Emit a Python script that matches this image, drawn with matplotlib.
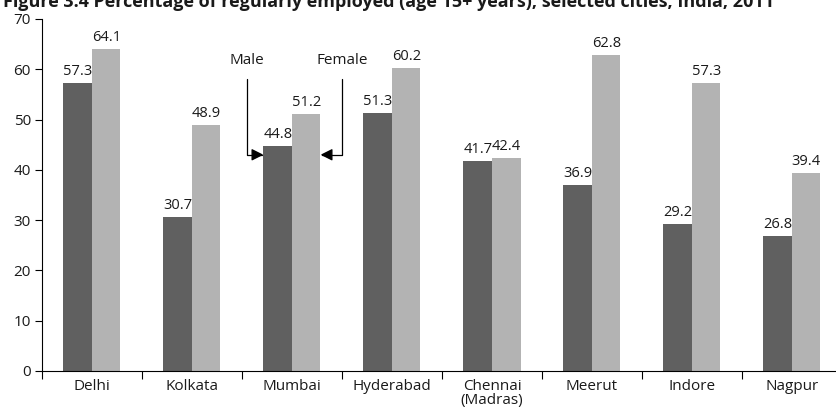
import matplotlib
matplotlib.use("Agg")
import numpy as np
import matplotlib.pyplot as plt

cities = ["Delhi", "Kolkata", "Mumbai", "Hyderabad", "Chennai\n(Madras)",
          "Meerut", "Indore", "Nagpur"]
male = [57.3, 30.7, 44.8, 51.3, 41.7, 36.9, 29.2, 26.8]
female = [64.1, 48.9, 51.2, 60.2, 42.4, 62.8, 57.3, 39.4]
yticks = [0, 10, 20, 30, 40, 50, 60, 70]

plt.rcParams["font.family"] = ["Open Sans", "DejaVu Sans"]
plt.rcParams["font.size"] = 10.5
plt.rcParams["text.color"] = "#1a1a1a"
plt.rcParams["xtick.labelcolor"] = "#1a1a1a"
plt.rcParams["ytick.labelcolor"] = "#1a1a1a"

fig = plt.figure(figsize=(8.37, 4.13), dpi=100)
ax = fig.add_axes([42 / 837, 42 / 413, 800 / 837, 352 / 413])

x = np.arange(len(cities)) + 0.5
w = 0.285
dark = "#606060"
light = "#b3b3b3"
ax.bar(x - w / 2, male, w, color=dark)
ax.bar(x + w / 2, female, w, color=light)

for xi, m, f in zip(x, male, female):
    ax.text(xi - w / 2, m + 0.8, "%.1f" % m, ha="center", va="bottom")
    ax.text(xi + w / 2, f + 0.8, "%.1f" % f, ha="center", va="bottom")

ax.set_xlim(0, len(cities))
ax.set_ylim(0, 70)
ax.set_yticks(yticks)
ax.set_xticks(np.arange(len(cities)))
ax.set_xticklabels([])
ax.set_xticks(x, minor=True)
ax.set_xticklabels(cities, minor=True)
ax.tick_params(axis="x", which="minor", length=0, pad=6, labelsize=11)
ax.tick_params(axis="x", which="major", length=6, direction="out")
ax.tick_params(axis="y", length=5, direction="out", pad=3, labelsize=11)
for lbl in ax.get_xticklabels(minor=True):
    lbl.set_linespacing(0.9)
    lbl.set_va("top")

ax.spines["top"].set_visible(False)
ax.spines["right"].set_visible(False)

# Male / Female pointers on Mumbai group
ax.annotate("Male", xy=(2.5 - w, 43.0), xytext=(2.05, 61.8),
            ha="center", va="center", fontsize=11,
            arrowprops=dict(arrowstyle="-|>", color="black", lw=0.9,
                            connectionstyle="angle,angleA=-90,angleB=180,rad=0",
                            shrinkA=6, shrinkB=0, mutation_scale=18))
ax.annotate("Female", xy=(2.5 + w, 43.0), xytext=(3.0, 61.8),
            ha="center", va="center", fontsize=11,
            arrowprops=dict(arrowstyle="-|>", color="black", lw=0.9,
                            connectionstyle="angle,angleA=-90,angleB=0,rad=0",
                            shrinkA=6, shrinkB=0, mutation_scale=18))

fig.text(0.003, 1 - 7 / 413, "Figure 3.4 Percentage of regularly employed (age 15+ years), selected cities, India, 2011",
         ha="left", va="baseline", fontsize=13, fontweight="bold")

fig.savefig("out.png", dpi=100)
